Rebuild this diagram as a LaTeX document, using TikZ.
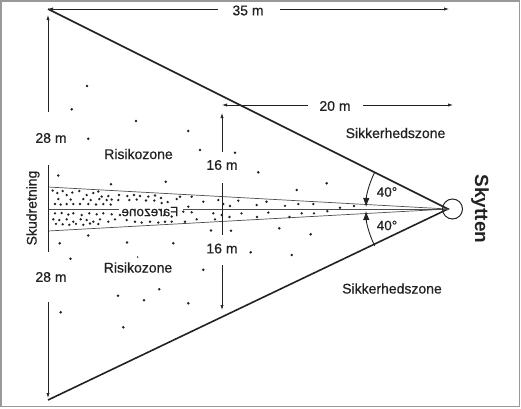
\documentclass[tikz,border=0pt]{standalone}
\usepackage{fontspec}
\setmainfont{Liberation Sans}
\newfontfamily\medfont[FakeBold=0.6]{Liberation Sans}
\usetikzlibrary{arrows.meta,calc}
\definecolor{ink}{HTML}{222222}
\begin{document}
\begin{tikzpicture}[x=1pt,y=-1pt,
  lbl/.style={font=\medfont\fontsize{14}{14}\selectfont, text=ink, inner sep=0pt},
  sideline/.style={draw=ink, line width=1.6pt},
  fanline/.style={draw=ink!80, line width=0.7pt},
  dimline/.style={draw=ink, line width=0.7pt, -{Latex[length=5pt,width=3.2pt]}},
  plainline/.style={draw=ink, line width=0.7pt},
  arcline/.style={draw=ink, line width=0.9pt, -{Latex[length=9pt,width=6.5pt]}},
  dotc/.style={fill=ink}]
\useasboundingbox (0,0) rectangle (521,408);
\draw[black!40, line width=1.5pt] (0.75,0.75) rectangle (519.5,406.5);

% main geometry
\coordinate (apex) at (448,209);
\coordinate (tl) at (48,9);
\coordinate (bl) at (48,400);
\draw[sideline] (tl) -- (apex) -- (bl);

% fan (Farezone)
\coordinate (fu) at (48,187);
\coordinate (fl) at (48,231);
\coordinate (fc) at (48,209);
\coordinate (cl1) at (119,209);
\coordinate (cl2) at (183,209);
\draw[fanline] (fu) -- (apex) -- (fl);
\draw[fanline] (fc) -- (cl1);
\draw[fanline] (cl2) -- (apex);
\node[lbl, font=\medfont\fontsize{13.5}{13.5}\selectfont, xscale=-1] (fare) at (150,211.5) {Farezone};

% shot direction
\coordinate (sk1) at (48,165);
\coordinate (sk2) at (48,252);
\draw[plainline] (sk1) -- (sk2);
\node[lbl, rotate=90] (skud) at (33,208) {Skudretning};

% 16 m tick
\coordinate (tk1) at (222,183);
\coordinate (tk2) at (222,235);
\draw[plainline] (tk1) -- (tk2);

% shooter
\node[circle, draw=ink, line width=1pt, minimum size=20pt, inner sep=0pt] (shooter) at (452.5,209) {};
\node[font=\fontsize{19}{19}\selectfont\bfseries, text=ink, inner sep=0pt, rotate=-90] (skytten) at (480,209) {Skytten};

% 35 m
\coordinate (d35l) at (48,9);
\coordinate (d35a) at (218,9);
\coordinate (d35b) at (280,9);
\coordinate (d35r) at (449,9);
\draw[dimline] (d35a) -- (d35l);
\draw[dimline] (d35b) -- (d35r);
\node[lbl] (t35) at (248,10.5) {35 m};

% 20 m
\coordinate (d20l) at (222,105);
\coordinate (d20a) at (308,105);
\coordinate (d20b) at (363,105);
\coordinate (d20r) at (453,105);
\draw[dimline] (d20a) -- (d20l);
\draw[dimline] (d20b) -- (d20r);
\node[lbl] (t20) at (335,106) {20 m};

% 28 m
\coordinate (d28ut) at (48,15);
\coordinate (d28us) at (48,112);
\coordinate (d28ls) at (48,302);
\coordinate (d28lt) at (48,398);
\draw[dimline] (d28us) -- (d28ut);
\draw[dimline] (d28ls) -- (d28lt);
\node[lbl] (t28u) at (51,138) {28 m};
\node[lbl] (t28l) at (51,277) {28 m};

% 16 m
\coordinate (d16ut) at (222,113);
\coordinate (d16us) at (222,152);
\coordinate (d16ls) at (222,265);
\coordinate (d16lt) at (222,310);
\draw[dimline] (d16us) -- (d16ut);
\draw[dimline] (d16ls) -- (d16lt);
\node[lbl] (t16u) at (222,165) {16 m};
\node[lbl] (t16l) at (222,248.5) {16 m};

% angle arcs
\draw[arcline] ($(apex)+(153.43:82pt)$) arc[start angle=153.43, end angle=178.6, radius=82pt];
\draw[arcline] ($(apex)+(206.57:82pt)$) arc[start angle=206.57, end angle=181.4, radius=82pt];
\node[lbl, font=\medfont\fontsize{13.5}{13.5}\selectfont] (a40u) at (387,192) {40°};
\node[lbl, font=\medfont\fontsize{13.5}{13.5}\selectfont] (a40l) at (387,225.5) {40°};

% zone labels
\node[lbl] (sz1) at (395.5,133) {Sikkerhedszone};
\node[lbl] (sz2) at (392,288.5) {Sikkerhedszone};
\node[lbl] (rz1) at (138.5,154) {Risikozone};
\node[lbl] (rz2) at (138,267.5) {Risikozone};

% scattered dots outside the fan
\foreach \a/\b in {87/86, 71.7/109.3, 136/121, 188.3/131, 88.3/138.7, 200/150, 235/152.7,
  58.3/175.5, 258.3/172.3, 296.7/190, 326.7/183.3, 111/184.3, 165.7/181.7,
  231/230.7, 279.3/228.3, 310.7/234.3, 250.7/252.3, 291.7/255, 88.3/235.5,
  59.7/243.3, 127/242.5, 173.3/243.3, 211/230.5, 70.5/258.7, 203.3/269.8,
  159.3/289.2, 118/295.7, 144/300.2, 188.3/303.3, 60.7/312.3, 123.3/327.3}
{ \fill[dotc] (\a,\b) circle[radius=1.4pt]; }
\fill[dotc] (137.7,257) circle[radius=0.8pt];

% dots inside the fan
\foreach \a/\b in {
  180/196.7, 191.7/196.7, 203.3/201.7, 218.3/200, 223.3/204, 230/206, 238.3/200.7,
  256.7/205, 266.5/201.7, 285/205.8, 298.3/204, 313.3/204, 340/207.7, 354/206,
  183.3/211.7, 188.3/206.7, 191.7/212.3, 213.3/213.3, 221.7/215, 241.5/213.3,
  268.3/212.5, 301.7/213.3, 314/213.3, 327.3/211.2,
  171.7/221.7, 185/221.7, 196.7/219.3, 215/219.3, 229.5/217, 257/217, 289.5/217,
  52.7/190.5, 57.3/193, 62.7/191, 66.7/195, 72.3/192.5, 79.3/191, 86.7/195, 93.3/193,
  98.3/191.5, 101.7/196.5, 108.3/196, 119/195, 127.3/196, 134/195, 140/196,
  148.3/196.5, 155/195.5, 161/198,
  58.3/199, 70.7/199.5, 83.3/199, 90.7/200, 99.3/199, 106.7/200, 111.7/199.5,
  118.3/200, 129.3/200, 136.7/199.5, 146/200.5, 154.3/200.5, 161.7/203, 167.7/202, 176.7/199,
  55/204, 60.7/204.5, 66.7/204, 73.3/204, 80/204, 88.3/204, 96/204.5, 103.3/204, 110.7/204.5,
  55/213.3, 61.7/213, 68.3/214.5, 73.3/213.3, 81.7/215, 89.3/213.3, 96.7/214.3,
  103.3/213.3, 111.7/214.3, 120/215,
  53.3/219.3, 59.3/220, 66.7/219.3, 73.3/221.7, 80.7/219.3, 86.7/220, 93.3/221.7,
  100/219.3, 108.3/221.7, 115/219.3,
  56/223.8, 62.7/224.3, 69.3/224.8, 76/223.8, 83.3/224.8, 90/223.5, 98.3/224,
  126.7/220, 135/221.7, 141.7/222.5, 150/221.7, 158.3/222.5, 165/221.7, 171.7/216.5}
{ \fill[dotc] (\a,\b) circle[radius=1.3pt]; }
\end{tikzpicture}
\end{document}
